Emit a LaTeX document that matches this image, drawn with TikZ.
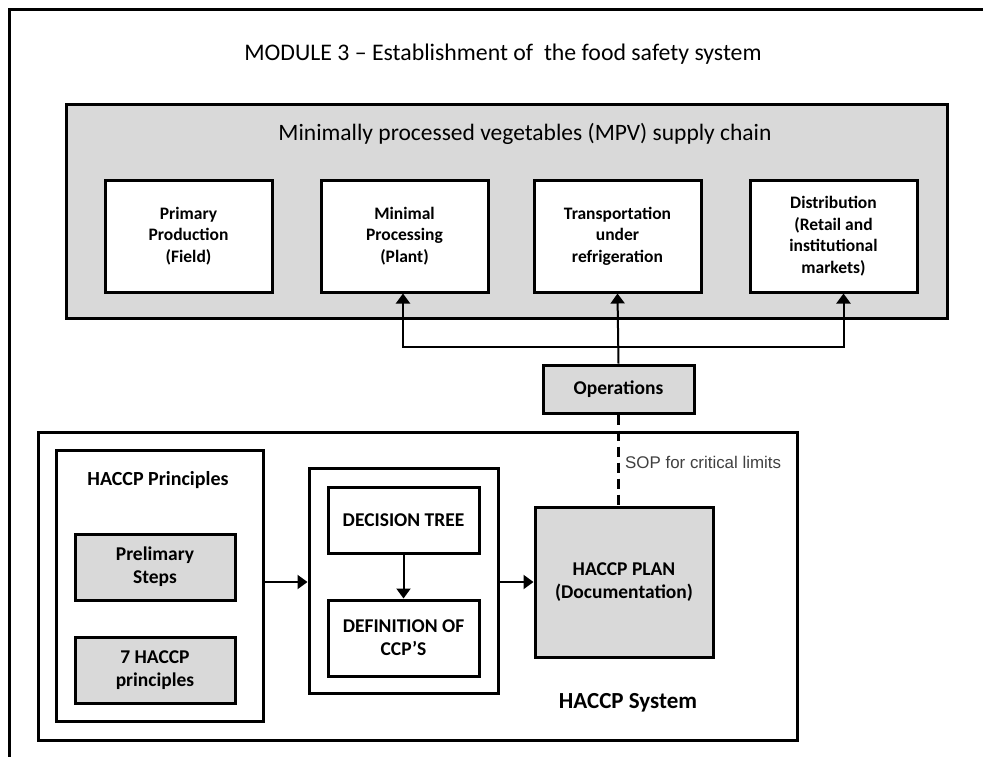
\documentclass[tikz,border=0pt]{standalone}
\usepackage{fontspec}
\setmainfont{Carlito}
\newfontfamily\arialfont{Liberation Sans}
\usetikzlibrary{arrows.meta}
\definecolor{boxgray}{RGB}{217,217,217}
\tikzset{
  box/.style={draw, line width=3pt, fill=white, align=center, inner sep=0pt,
    font=\bfseries\fontsize{19.5}{23}\selectfont},
  chainbox/.style={box, minimum width=167pt, minimum height=112pt,
    font=\bfseries\fontsize{17.5}{21.5}\selectfont},
  graybox/.style={box, fill=boxgray},
  frame/.style={draw, line width=3pt, inner sep=0pt},
  link/.style={line width=2pt, -{Triangle[length=10pt,width=14pt]}},
}
\begin{document}
\begin{tikzpicture}[x=1pt,y=-1pt]
\useasboundingbox (0,0) rectangle (983,756);
\fill[white] (0,0) rectangle (983,756);
\draw[line width=3pt] (9,9) rectangle (1000,790);
\node[font=\fontsize{23.8}{28}\selectfont] (title) at (503,54) {MODULE 3 -- Establishment of\ \ the food safety system};
\node[graybox, minimum width=881pt, minimum height=214pt] (chain) at (506.5,211) {};
\node[font=\fontsize{23.5}{28}\selectfont] (chainlabel) at (525,134) {Minimally processed vegetables (MPV) supply chain};
\node[chainbox] (field) at (188.5,236) {Primary\\Production\\(Field)};
\node[chainbox] (plant) at (404.5,236) {Minimal\\Processing\\(Plant)};
\node[chainbox] (cold) at (617.5,236) {Transportation\\under\\refrigeration};
\node[chainbox] (retail) at (833.5,236) {Distribution\\(Retail and\\institutional\\markets)};
\node[graybox, minimum width=151pt, minimum height=48pt] (ops) at (618.5,389) {Operations};
\coordinate (fork) at (618.5,347);
\draw[link] (ops.north) -- (cold.south);
\draw[link] (fork) -| ([xshift=-1.5pt]plant.south);
\draw[link] (fork) -| ([xshift=10pt]retail.south);
\node[frame, minimum width=759pt, minimum height=308pt] (system) at (417.5,586) {};
\node[frame, minimum width=207pt, minimum height=271pt] (principles) at (159.5,585.5) {};
\node[font=\bfseries\fontsize{20}{23}\selectfont] (principleslabel) at (158,480) {HACCP Principles};
\node[graybox, minimum width=160pt, minimum height=66pt] (prelim) at (155,567) {Prelimary\\Steps};
\node[graybox, minimum width=160pt, minimum height=66pt] (seven) at (155,670) {7 HACCP\\principles};
\node[frame, minimum width=189pt, minimum height=225pt] (ccpblock) at (403.5,580.5) {};
\node[box, minimum width=151pt, minimum height=66pt] (tree) at (403.5,520) {DECISION TREE};
\node[box, minimum width=151pt, minimum height=76pt] (ccp) at (403.5,638) {DEFINITION OF\\CCP’S};
\node[graybox, minimum width=178pt, minimum height=150pt] (plan) at (624,582) {HACCP PLAN\\(Documentation)};
\node[font=\bfseries\fontsize{23}{27}\selectfont] (systemlabel) at (628,703) {HACCP System};
\node[anchor=west, inner sep=0pt, text=black!75, font=\arialfont\fontsize{16.9}{20}\selectfont] (sop) at (625,462) {SOP for critical limits};
\draw[line width=2.5pt, dash pattern=on 10pt off 6pt] (ops.south) -- (ops.south |- plan.north);
\draw[link] (tree.south) -- (ccp.north);
\draw[link] (principles.east |- plan.west) -- (ccpblock.west |- plan.west);
\draw[link] (ccpblock.east |- plan.west) -- (plan.west);
\end{tikzpicture}
\end{document}
